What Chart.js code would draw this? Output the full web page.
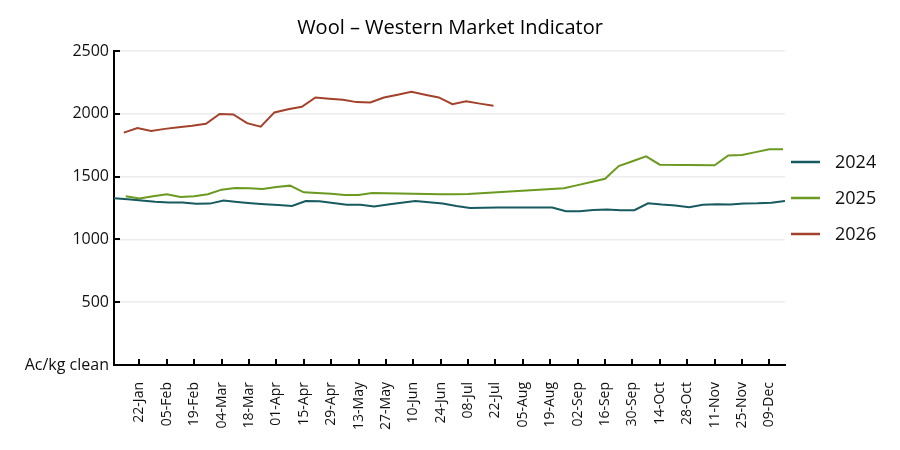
<!DOCTYPE html>
<html>
<head>
<meta charset="utf-8">
<script src="https://cdn.jsdelivr.net/npm/chart.js@4/dist/chart.umd.min.js"></script>
<style>
    html, body { margin: 0; padding: 0; background: #fff; }
    #wrap { width: 900px; height: 450px; }
</style>
</head>
<body>
<div id="wrap"><canvas id="wmi"></canvas></div>
<script>
// sale days plotted on a common (2024) day-of-year axis
const dias2024 = [9, 16, 23, 30, 37, 44, 51, 58, 65, 72, 79, 86, 93, 100, 107, 114, 121, 128, 135, 142,
    149, 156, 163, 170, 177, 184, 191, 198, 205, 233, 240, 247, 254, 261, 268, 275, 282, 289, 296, 303,
    310, 317, 324, 331, 338, 345, 352];
const valores2024 = [1327, 1320, 1310, 1300, 1293, 1293, 1283, 1285, 1310, 1298, 1288, 1280, 1273, 1266, 1305, 1303, 1290, 1275, 1275, 1262,
    1278, 1292, 1305, 1296, 1285, 1266, 1250, 1252, 1254, 1253, 1224, 1224, 1234, 1239, 1233, 1232, 1287, 1277, 1270, 1257,
    1275, 1280, 1278, 1286, 1287, 1292, 1306];

const dias2025 = [15, 22, 29, 36, 43, 50, 57, 64, 71, 78, 85, 92, 99, 106, 113, 120, 127, 134, 141, 148,
    155, 162, 169, 176, 183, 190, 239, 246, 253, 260, 267, 274, 281, 288, 316, 323, 330, 337, 344, 351];
const valores2025 = [1343, 1325, 1343, 1359, 1338, 1343, 1359, 1396, 1409, 1407, 1401, 1417, 1428, 1375, 1370, 1364, 1354, 1354, 1370, 1368,
    1365, 1363, 1361, 1360, 1359, 1361, 1407, 1432, 1457, 1483, 1584, 1622, 1661, 1595, 1590, 1668, 1672, 1695, 1717, 1717];

const dias2026 = [14, 21, 28, 35, 42, 49, 56, 63, 70, 77, 84, 91, 98, 105, 112, 119, 126, 133, 140, 147,
    154, 161, 168, 175, 182, 189, 196, 203];
const valores2026 = [1850, 1886, 1863, 1880, 1893, 1905, 1921, 1998, 1995, 1926, 1897, 2011, 2037, 2056, 2130, 2120, 2112, 2093, 2090, 2130,
    2152, 2175, 2152, 2130, 2077, 2099, 2081, 2064];

const diasTicks = [22, 36, 50, 64, 78, 92, 106, 120, 134, 148, 162, 176, 190, 204, 218, 232, 246, 260, 274, 288, 302, 316, 330, 344];
const etiquetasTicks = ["22-Jan", "05-Feb", "19-Feb", "04-Mar", "18-Mar", "01-Apr", "15-Apr", "29-Apr", "13-May", "27-May",
    "10-Jun", "24-Jun", "08-Jul", "22-Jul", "05-Aug", "19-Aug", "02-Sep", "16-Sep", "30-Sep", "14-Oct",
    "28-Oct", "11-Nov", "25-Nov", "09-Dec"];

const colorTeal = "#175a5f";
const colorVerde = "#6a9a1f";
const colorOxido = "#a3412b";
const fuente = "'Open Sans', 'Noto Sans', sans-serif";

const aPuntos = (xs, ys) => xs.map((x, i) => ({ x: x, y: ys[i] }));

// tick marks drawn inward, as in the original
const ticksInternos = {
    id: "ticksInternos",
    afterDatasetsDraw(chart) {
        const ctx = chart.ctx;
        const { x, y } = chart.scales;
        ctx.save();
        ctx.strokeStyle = "#000";
        ctx.lineWidth = 2;
        ctx.beginPath();
        y.ticks.forEach((t) => {
            if (t.value === 0) return;
            const py = Math.round(y.getPixelForValue(t.value));
            ctx.moveTo(y.right, py);
            ctx.lineTo(y.right + 6, py);
        });
        x.ticks.forEach((t) => {
            const px = Math.round(x.getPixelForValue(t.value));
            ctx.moveTo(px, x.top);
            ctx.lineTo(px, x.top - 6);
        });
        ctx.stroke();
        ctx.restore();
    },
};

const leyendaDerecha = {
    id: "leyendaDerecha",
    afterDraw(chart) {
        const ctx = chart.ctx;
        ctx.save();
        ctx.font = "18px " + fuente;
        ctx.textBaseline = "middle";
        chart.data.datasets.forEach((ds, i) => {
            const cy = 162 + i * 36;
            ctx.strokeStyle = ds.borderColor;
            ctx.lineWidth = 2.5;
            ctx.beginPath();
            ctx.moveTo(791, cy);
            ctx.lineTo(820, cy);
            ctx.stroke();
            ctx.fillStyle = "#111";
            ctx.fillText(ds.label, 835, cy + 1);
        });
        ctx.restore();
    },
};

new Chart(document.getElementById("wmi"), {
    type: "line",
    data: {
        datasets: [
            { label: "2024", data: aPuntos(dias2024, valores2024), borderColor: colorTeal, backgroundColor: colorTeal },
            { label: "2025", data: aPuntos(dias2025, valores2025), borderColor: colorVerde, backgroundColor: colorVerde },
            { label: "2026", data: aPuntos(dias2026, valores2026), borderColor: colorOxido, backgroundColor: colorOxido },
        ],
    },
    options: {
        responsive: true,
        maintainAspectRatio: false,
        animation: false,
        layout: { padding: 0 },
        elements: {
            line: { borderWidth: 2, tension: 0 },
            point: { radius: 0, hoverRadius: 0 },
        },
        scales: {
            x: {
                type: "linear",
                min: 9,
                max: 352,
                afterBuildTicks: (axis) => {
                    axis.ticks = diasTicks.map((v) => ({ value: v }));
                },
                afterFit: (axis) => {
                    axis.height = 85;
                },
                grid: { display: false },
                border: { color: "#000", width: 2 },
                ticks: {
                    autoSkip: false,
                    minRotation: 90,
                    maxRotation: 90,
                    padding: 9,
                    font: { family: fuente, size: 14 },
                    color: "#111",
                    callback: (value, index) => etiquetasTicks[index],
                },
            },
            y: {
                min: 0,
                max: 2500,
                afterFit: (axis) => {
                    axis.width = 114;
                },
                grid: { color: "#ececec", lineWidth: 1.5, drawTicks: false },
                border: { color: "#000", width: 2 },
                ticks: {
                    stepSize: 500,
                    padding: 5,
                    font: { family: fuente, size: 16 },
                    color: "#111",
                    callback: (value) => (value === 0 ? "Ac/kg clean" : value),
                },
            },
            // empty right-hand axis that keeps room for the legend
            espacio: {
                position: "right",
                min: 0,
                max: 1,
                afterFit: (axis) => {
                    axis.width = 115;
                },
                grid: { display: false },
                border: { display: false },
                ticks: { display: false },
            },
        },
        plugins: {
            legend: { display: false },
            tooltip: { enabled: false },
            title: {
                display: true,
                text: "Wool – Western Market Indicator",
                color: "#000",
                font: { family: fuente, size: 20, weight: "normal" },
                padding: { top: 16, bottom: 11 },
            },
        },
    },
    plugins: [ticksInternos, leyendaDerecha],
});
</script>
</body>
</html>
